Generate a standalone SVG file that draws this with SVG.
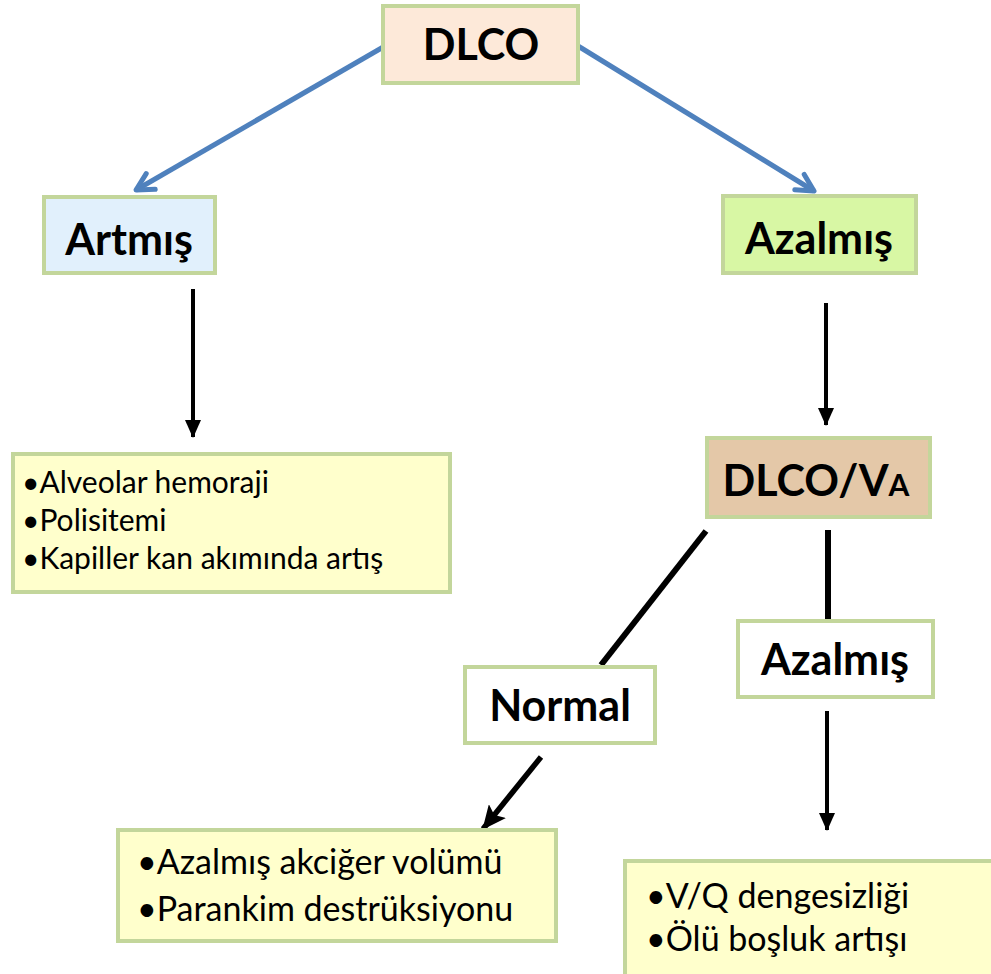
<svg xmlns="http://www.w3.org/2000/svg" width="991" height="974" viewBox="0 0 991 974">
  <style>
    .box { stroke: #c3d69b; stroke-width: 4; }
    .head { font-family: Lato, "Liberation Sans", sans-serif; font-weight: bold; font-size: 43px; fill: #000; text-anchor: middle; }
    .item { font-family: Lato, "Liberation Sans", sans-serif; font-size: 30px; fill: #000; }
    .item2 { font-family: Lato, "Liberation Sans", sans-serif; font-size: 34px; fill: #000; }
    .blue { stroke: #4f81bd; stroke-width: 5; fill: none; }
    .blk { stroke: #000; stroke-width: 4; fill: none; }
    .blk5 { stroke: #000; stroke-width: 5.5; fill: none; }
    .thick { stroke: #000; stroke-width: 6; fill: none; }
  </style>
  <defs>
    <marker id="chev" viewBox="0 0 24 24" refX="21" refY="12" markerWidth="24" markerHeight="24" orient="auto" markerUnits="userSpaceOnUse">
      <path d="M4,3 L21,12 L4,21" fill="none" stroke="#4f81bd" stroke-width="5" stroke-linejoin="round" stroke-linecap="round"/>
    </marker>
    <marker id="tri" viewBox="0 0 18 16" refX="17" refY="8" markerWidth="18" markerHeight="16" orient="auto" markerUnits="userSpaceOnUse">
      <path d="M0,0 L18,8 L0,16 Z" fill="#000"/>
    </marker>
    <marker id="stealth" viewBox="0 0 24 22" refX="23" refY="11" markerWidth="24" markerHeight="22" orient="auto" markerUnits="userSpaceOnUse">
      <path d="M0,0 L24,11 L0,22 L5,11 Z" fill="#000"/>
    </marker>
  </defs>

  <g id="connectors">
    <line class="blue" x1="385" y1="46" x2="136" y2="190" marker-end="url(#chev)"/>
    <line class="blue" x1="578" y1="46" x2="814" y2="191" marker-end="url(#chev)"/>
    <line class="blk" x1="193" y1="289" x2="193" y2="437" marker-end="url(#tri)"/>
    <line class="blk" x1="826" y1="303" x2="826" y2="425" marker-end="url(#tri)"/>
    <line class="thick" x1="706" y1="531" x2="601" y2="665"/>
    <line class="thick" x1="828" y1="530" x2="828" y2="620"/>
    <line class="blk5" x1="541" y1="757" x2="483" y2="829" marker-end="url(#stealth)"/>
    <line class="blk" x1="827" y1="711" x2="827" y2="830" marker-end="url(#tri)"/>
  </g>

  <g id="dlco">
    <rect class="box" x="383" y="6" width="195" height="77" fill="#fde9d9"/>
    <text class="head" x="481" y="60" font-size="40">DLCO</text>
  </g>

  <g id="artmis">
    <rect class="box" x="44" y="197" width="171" height="76" fill="#e1f0fc"/>
    <text class="head" x="129" y="255">Artmış</text>
  </g>

  <g id="azalmis-top">
    <rect class="box" x="723" y="196" width="193" height="77" fill="#d8f7a4"/>
    <text class="head" x="819" y="254">Azalmış</text>
  </g>

  <g id="artmis-list">
    <rect class="box" x="13" y="454" width="437" height="138" fill="#ffffcc"/>
    <text class="item" x="22" y="493">•Alveolar hemoraji</text>
    <text class="item" x="22" y="531">•Polisitemi</text>
    <text class="item" x="22" y="569">•Kapiller kan akımında artış</text>
  </g>

  <g id="dlco-va">
    <rect class="box" x="707" y="438" width="223" height="79" fill="#e4c8a8"/>
    <text class="head" x="816" y="496">DLCO/V<tspan font-size="30px">A</tspan></text>
  </g>

  <g id="normal">
    <rect class="box" x="465" y="667" width="190" height="76" fill="#fff"/>
    <text class="head" x="560" y="721">Normal</text>
  </g>

  <g id="azalmis-low">
    <rect class="box" x="738" y="621" width="195" height="76" fill="#fff"/>
    <text class="head" x="835" y="675">Azalmış</text>
  </g>

  <g id="normal-list">
    <rect class="box" x="118" y="830" width="438" height="111" fill="#ffffcc"/>
    <text class="item2" x="137" y="874">•Azalmış akciğer volümü</text>
    <text class="item2" x="137" y="921">•Parankim destrüksiyonu</text>
  </g>

  <g id="azalmis-list">
    <rect class="box" x="625" y="861" width="372" height="120" fill="#ffffcc"/>
    <text class="item2" x="646" y="908">•V/Q dengesizliği</text>
    <text class="item2" x="646" y="951">•Ölü boşluk artışı</text>
  </g>
</svg>
